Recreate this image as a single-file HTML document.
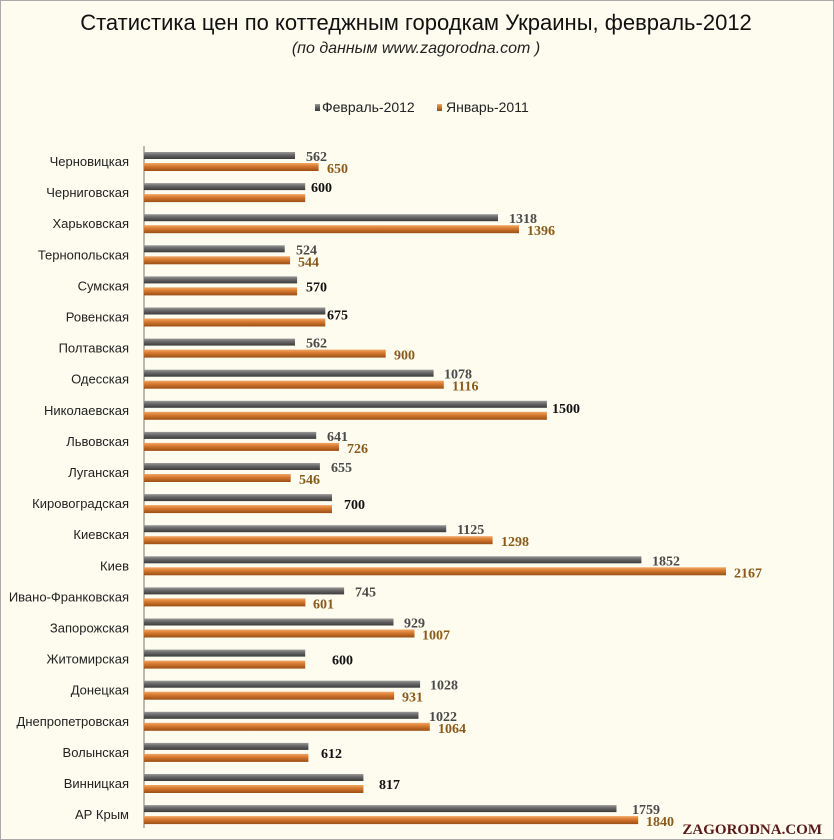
<!DOCTYPE html>
<html><head><meta charset="utf-8"><style>
body{margin:0;background:#fdfcef}
svg{display:block}
.c{font:13px "Liberation Sans",sans-serif;fill:#222;text-anchor:end}
.g{font:bold 14px "Liberation Serif",serif;fill:#4a4a4a}
.o{font:bold 14px "Liberation Serif",serif;fill:#8a5a1a}
.e{font:bold 14px "Liberation Serif",serif;fill:#111}
</style></head><body>
<svg width="834" height="840" xmlns="http://www.w3.org/2000/svg">
<defs>
<linearGradient id="gg" x1="0" y1="0" x2="0" y2="1"><stop offset="0" stop-color="#9a9a9a"/><stop offset="0.4" stop-color="#6a6a6a"/><stop offset="1" stop-color="#3a3a3a"/></linearGradient>
<linearGradient id="og" x1="0" y1="0" x2="0" y2="1"><stop offset="0" stop-color="#f2a765"/><stop offset="0.4" stop-color="#d77a30"/><stop offset="1" stop-color="#9a4f16"/></linearGradient>
</defs>
<rect x="0.5" y="0.5" width="833" height="839" fill="#fdfcef" stroke="#aaa"/>
<text x="416" y="30" text-anchor="middle" style="font:22px 'Liberation Sans',sans-serif;fill:#111">Статистика цен по коттеджным городкам Украины, февраль-2012</text>
<text x="416" y="53" text-anchor="middle" style="font:italic 16px 'Liberation Sans',sans-serif;fill:#222">(по данным www.zagorodna.com )</text>
<rect x="315" y="104" width="5" height="7" fill="url(#gg)"/>
<text x="322" y="112" style="font:14px 'Liberation Sans',sans-serif;fill:#222">Февраль-2012</text>
<rect x="437" y="104" width="5" height="7" fill="url(#og)"/>
<text x="446" y="112" style="font:14px 'Liberation Sans',sans-serif;fill:#222">Январь-2011</text>
<line x1="144" y1="146" x2="144" y2="828" stroke="#777" stroke-width="1"/>
<g transform="translate(0,152)">
<text class="c" x="129" y="14">Черновицкая</text><rect x="144" y="0" width="151.0" height="7" fill="url(#gg)"/><rect x="144" y="11" width="174.6" height="8" fill="url(#og)"/><text class="g" x="306" y="9">562</text><text class="o" x="327" y="21">650</text>
</g>
<g transform="translate(0,183.1)">
<text class="c" x="129" y="14">Черниговская</text><rect x="144" y="0" width="161.2" height="7" fill="url(#gg)"/><rect x="144" y="11" width="161.2" height="8" fill="url(#og)"/><text class="e" x="311" y="9">600</text>
</g>
<g transform="translate(0,214.2)">
<text class="c" x="129" y="14">Харьковская</text><rect x="144" y="0" width="354.0" height="7" fill="url(#gg)"/><rect x="144" y="11" width="375.0" height="8" fill="url(#og)"/><text class="g" x="509" y="9">1318</text><text class="o" x="527" y="21">1396</text>
</g>
<g transform="translate(0,245.3)">
<text class="c" x="129" y="14">Тернопольская</text><rect x="144" y="0" width="140.7" height="7" fill="url(#gg)"/><rect x="144" y="11" width="146.1" height="8" fill="url(#og)"/><text class="g" x="296" y="9">524</text><text class="o" x="298" y="21">544</text>
</g>
<g transform="translate(0,276.4)">
<text class="c" x="129" y="14">Сумская</text><rect x="144" y="0" width="153.1" height="7" fill="url(#gg)"/><rect x="144" y="11" width="153.1" height="8" fill="url(#og)"/><text class="e" x="306" y="15">570</text>
</g>
<g transform="translate(0,307.5)">
<text class="c" x="129" y="14">Ровенская</text><rect x="144" y="0" width="181.3" height="7" fill="url(#gg)"/><rect x="144" y="11" width="181.3" height="8" fill="url(#og)"/><text class="e" x="327" y="12">675</text>
</g>
<g transform="translate(0,338.6)">
<text class="c" x="129" y="14">Полтавская</text><rect x="144" y="0" width="151.0" height="7" fill="url(#gg)"/><rect x="144" y="11" width="241.7" height="8" fill="url(#og)"/><text class="g" x="306" y="9">562</text><text class="o" x="394" y="21">900</text>
</g>
<g transform="translate(0,369.7)">
<text class="c" x="129" y="14">Одесская</text><rect x="144" y="0" width="289.6" height="7" fill="url(#gg)"/><rect x="144" y="11" width="299.8" height="8" fill="url(#og)"/><text class="g" x="444" y="9">1078</text><text class="o" x="452" y="21">1116</text>
</g>
<g transform="translate(0,400.8)">
<text class="c" x="129" y="14">Николаевская</text><rect x="144" y="0" width="402.9" height="7" fill="url(#gg)"/><rect x="144" y="11" width="402.9" height="8" fill="url(#og)"/><text class="e" x="552" y="12">1500</text>
</g>
<g transform="translate(0,431.9)">
<text class="c" x="129" y="14">Львовская</text><rect x="144" y="0" width="172.2" height="7" fill="url(#gg)"/><rect x="144" y="11" width="195.0" height="8" fill="url(#og)"/><text class="g" x="327" y="9">641</text><text class="o" x="347" y="21">726</text>
</g>
<g transform="translate(0,463.0)">
<text class="c" x="129" y="14">Луганская</text><rect x="144" y="0" width="175.9" height="7" fill="url(#gg)"/><rect x="144" y="11" width="146.7" height="8" fill="url(#og)"/><text class="g" x="331" y="9">655</text><text class="o" x="299" y="21">546</text>
</g>
<g transform="translate(0,494.1)">
<text class="c" x="129" y="14">Кировоградская</text><rect x="144" y="0" width="188.0" height="7" fill="url(#gg)"/><rect x="144" y="11" width="188.0" height="8" fill="url(#og)"/><text class="e" x="344" y="15">700</text>
</g>
<g transform="translate(0,525.2)">
<text class="c" x="129" y="14">Киевская</text><rect x="144" y="0" width="302.2" height="7" fill="url(#gg)"/><rect x="144" y="11" width="348.6" height="8" fill="url(#og)"/><text class="g" x="457" y="9">1125</text><text class="o" x="501" y="21">1298</text>
</g>
<g transform="translate(0,556.3)">
<text class="c" x="129" y="14">Киев</text><rect x="144" y="0" width="497.4" height="7" fill="url(#gg)"/><rect x="144" y="11" width="582.0" height="8" fill="url(#og)"/><text class="g" x="652" y="9">1852</text><text class="o" x="734" y="21">2167</text>
</g>
<g transform="translate(0,587.4)">
<text class="c" x="129" y="14">Ивано-Франковская</text><rect x="144" y="0" width="200.1" height="7" fill="url(#gg)"/><rect x="144" y="11" width="161.4" height="8" fill="url(#og)"/><text class="g" x="355" y="9">745</text><text class="o" x="313" y="21">601</text>
</g>
<g transform="translate(0,618.5)">
<text class="c" x="129" y="14">Запорожская</text><rect x="144" y="0" width="249.5" height="7" fill="url(#gg)"/><rect x="144" y="11" width="270.5" height="8" fill="url(#og)"/><text class="g" x="404" y="9">929</text><text class="o" x="422" y="21">1007</text>
</g>
<g transform="translate(0,649.6)">
<text class="c" x="129" y="14">Житомирская</text><rect x="144" y="0" width="161.2" height="7" fill="url(#gg)"/><rect x="144" y="11" width="161.2" height="8" fill="url(#og)"/><text class="e" x="332" y="15">600</text>
</g>
<g transform="translate(0,680.7)">
<text class="c" x="129" y="14">Донецкая</text><rect x="144" y="0" width="276.1" height="7" fill="url(#gg)"/><rect x="144" y="11" width="250.1" height="8" fill="url(#og)"/><text class="g" x="430" y="9">1028</text><text class="o" x="402" y="21">931</text>
</g>
<g transform="translate(0,711.8)">
<text class="c" x="129" y="14">Днепропетровская</text><rect x="144" y="0" width="274.5" height="7" fill="url(#gg)"/><rect x="144" y="11" width="285.8" height="8" fill="url(#og)"/><text class="g" x="429" y="9">1022</text><text class="o" x="438" y="21">1064</text>
</g>
<g transform="translate(0,742.9)">
<text class="c" x="129" y="14">Волынская</text><rect x="144" y="0" width="164.4" height="7" fill="url(#gg)"/><rect x="144" y="11" width="164.4" height="8" fill="url(#og)"/><text class="e" x="321" y="15">612</text>
</g>
<g transform="translate(0,774.0)">
<text class="c" x="129" y="14">Винницкая</text><rect x="144" y="0" width="219.4" height="7" fill="url(#gg)"/><rect x="144" y="11" width="219.4" height="8" fill="url(#og)"/><text class="e" x="379" y="15">817</text>
</g>
<g transform="translate(0,805.1)">
<text class="c" x="129" y="14">АР Крым</text><rect x="144" y="0" width="472.5" height="7" fill="url(#gg)"/><rect x="144" y="11" width="494.2" height="8" fill="url(#og)"/><text class="g" x="632" y="9">1759</text><text class="o" x="646" y="21">1840</text>
</g>
<text x="822" y="834" text-anchor="end" style="font:bold 15px 'Liberation Serif',serif;fill:#5a1a1a">ZAGORODNA.COM</text>
</svg>
</body></html>
